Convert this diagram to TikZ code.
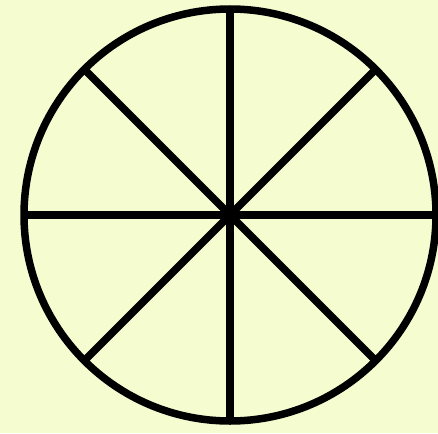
\documentclass[tikz,border=0pt]{standalone}
\usepackage{tikz}
\usepackage{xcolor}
\definecolor{paleLime}{RGB}{245,253,208}
\tikzset{wheelLine/.style={line width=7.5pt, black}}

\begin{document}
\begin{tikzpicture}[x=1pt, y=-1pt]
    \fill[paleLime] (0,0) rectangle (438,433);
    \useasboundingbox (0,0) rectangle (438,433);
    \coordinate (hub) at (230,215);
    \draw[wheelLine] (hub) circle (206);
    \foreach \a in {0,45,...,315} {
        \draw[wheelLine] (hub) -- ++(\a:206);
    }
\end{tikzpicture}
\end{document}
